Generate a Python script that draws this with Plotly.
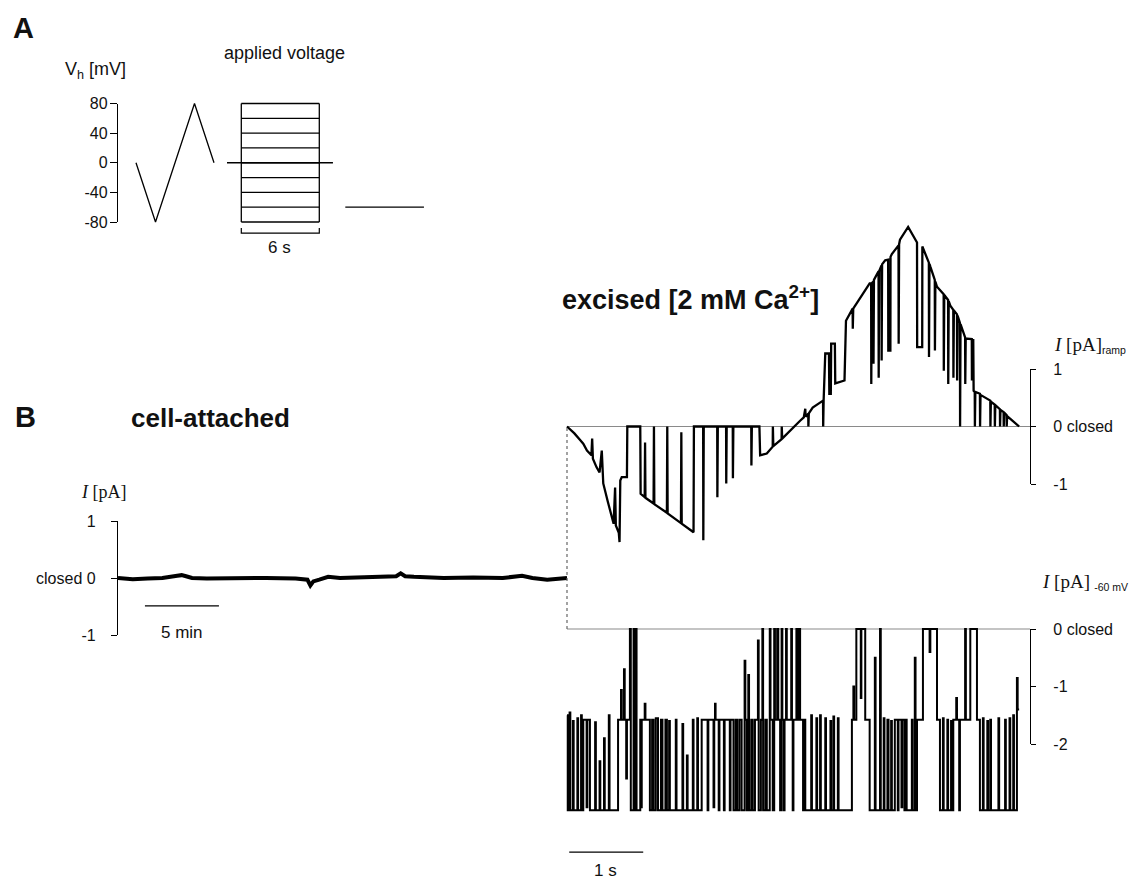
import plotly.graph_objects as go

W, H = 1132, 885

# ======================= DATA =======================
# Panel A: applied voltage protocol (time in s, voltage in mV)
ramp_prot_t = [0.0, 1.5, 4.5, 6.0]
ramp_prot_v = [0, -80, 80, 0]
step_levels = [-80, -60, -40, -20, 0, 20, 40, 60, 80]
step_on, step_off = 8.1, 14.1
hold_on, hold_off, hold_v = 7.0, 15.15, 0
m60_on, m60_off, m60_v = 16.1, 22.15, -60
prot_ticks = [80, 40, 0, -40, -80]
scale_A_len = 6          # s
scale_A_label = "6 s"

# Panel B, cell-attached (time in min, current in pA)
ca_t = [0, 1, 2, 3, 4, 4.3, 4.6, 5, 6, 8, 10, 12, 12.8, 13.0, 13.2, 13.6, 14.2,
        15, 16, 18, 18.8, 19.1, 19.4, 20, 22, 24, 26, 27.3, 28, 29, 30.34]
ca_i = [0, -0.02, -0.01, 0.0, 0.04, 0.05, 0.03, 0.0, -0.01, 0.0, 0.0, -0.01,
        -0.03, -0.13, -0.06, -0.03, 0.02, 0.0, 0.01, 0.02, 0.03, 0.08, 0.03,
        0.02, 0.0, 0.01, 0.0, 0.04, 0.0, -0.03, 0.0]
ca_ticks = [1, 0, -1]
ca_ticktext = ["1", "closed 0", "-1"]
scale_ca_len = 5         # min
scale_ca_label = "5 min"

# Panel B, excised, ramp (time in s, current in pA)
ramp_t = [0.00, 0.10, 0.18, 0.22, 0.27, 0.33, 0.34, 0.35, 0.40, 0.44, 0.47, 0.48,
          0.49, 0.55, 0.58, 0.63, 0.65, 0.66, 0.70, 0.71, 0.72, 0.74, 0.81, 0.815,
          0.99, 0.995, 1.05, 1.055, 1.06, 1.17, 1.175, 1.18, 1.35, 1.355, 1.36,
          1.54, 1.545, 1.55, 1.71, 1.715, 1.84, 1.842, 1.848, 2.03, 2.032, 2.038,
          2.15, 2.152, 2.158, 2.24, 2.242, 2.248, 2.49, 2.492, 2.498, 2.60, 2.602,
          2.61, 2.70, 2.78, 2.782, 2.788, 2.90, 2.902, 2.908, 3.15, 3.20, 3.22,
          3.225, 3.26, 3.262, 3.268, 3.32, 3.46, 3.462, 3.468, 3.49, 3.54, 3.545,
          3.565, 3.57, 3.62, 3.625, 3.75, 3.77, 3.86, 3.862, 3.868, 4.09, 4.11,
          4.112, 4.118, 4.14, 4.142, 4.148, 4.21, 4.212, 4.218, 4.25, 4.252, 4.258,
          4.30, 4.34, 4.342, 4.37, 4.372, 4.39, 4.48, 4.482, 4.488, 4.50, 4.61,
          4.73, 4.732, 4.80, 4.802, 4.89, 4.892, 4.898, 4.91, 4.97, 4.972, 4.978,
          5.00, 5.09, 5.092, 5.098, 5.15, 5.152, 5.158, 5.18, 5.22, 5.222, 5.228,
          5.27, 5.272, 5.278, 5.31, 5.312, 5.318, 5.38, 5.382, 5.388, 5.47, 5.472,
          5.478, 5.49, 5.495, 5.51, 5.512, 5.518, 5.58, 5.582, 5.588, 5.72, 5.722,
          5.728, 5.78, 5.782, 5.788, 5.85, 5.852, 5.858, 5.90, 5.902, 5.908, 5.94,
          5.942, 5.948, 6.11]
ramp_i = [0.00, -0.12, -0.24, -0.30, -0.42, -0.50, -0.21, -0.56, -0.71, -0.80,
          -0.42, -0.85, -0.99, -1.30, -1.46, -1.69, -1.06, -1.72, -1.85, -2.01,
          -0.94, -0.88, -0.88, 0.00, 0.00, -1.17, -1.23, -0.28, -1.24, -1.34, 0.00,
          -1.35, -1.50, 0.00, -1.51, -1.68, -0.10, -1.69, -1.84, 0.00, 0.00, -1.98,
          0.00, 0.00, -1.23, 0.00, 0.00, -0.99, 0.00, 0.00, -0.90, 0.00, 0.00,
          -0.68, 0.00, 0.00, -0.47, -0.50, -0.47, -0.35, 0.00, -0.34, -0.22, 0.00,
          -0.21, 0.10, 0.16, 0.31, 0.17, 0.22, 0.00, 0.23, 0.33, 0.45, 0.00, 0.45,
          1.27, 1.27, 0.57, 0.57, 1.44, 1.44, 0.75, 0.80, 1.84, 2.05, 1.70, 2.05,
          2.49, 2.49, 0.74, 2.49, 2.52, 1.09, 2.55, 2.70, 0.85, 2.70, 2.80, 1.15,
          2.82, 2.89, 2.90, 1.32, 1.32, 2.95, 3.00, 3.15, 1.44, 3.17, 3.25, 3.47,
          3.20, 1.38, 1.38, 3.13, 2.85, 1.21, 2.83, 2.78, 2.55, 1.32, 2.52, 2.43,
          2.30, 0.97, 2.29, 2.20, 0.74, 2.18, 2.10, 2.03, 0.85, 2.02, 1.95, 0.80,
          1.93, 1.80, 0.00, 1.78, 1.55, 0.74, 1.53, 1.52, 0.80, 1.50, 1.50, 0.62,
          0.60, 0.00, 0.60, 0.57, 0.00, 0.55, 0.45, 0.00, 0.43, 0.38, 0.00, 0.37,
          0.30, 0.00, 0.29, 0.25, 0.00, 0.24, 0.20, 0.00, 0.18, 0.00]
ramp_ticks = [1, 0, -1]
ramp_ticktext = ["1", "0 closed", "-1"]

# Panel B, excised, holding at -60 mV (step trace: time of change in s, current after it in pA)
m60_t = [0.000, 0.010, 0.035, 0.045, 0.080, 0.090, 0.140, 0.150, 0.190, 0.200,
         0.220, 0.265, 0.275, 0.310, 0.380, 0.390, 0.440, 0.450, 0.500, 0.510,
         0.565, 0.575, 0.690, 0.730, 0.740, 0.770, 0.780, 0.800, 0.810, 0.850,
         0.862, 0.900, 0.910, 0.930, 0.940, 0.990, 1.000, 1.010, 1.050, 1.060,
         1.120, 1.150, 1.170, 1.200, 1.230, 1.270, 1.290, 1.330, 1.350, 1.380,
         1.390, 1.470, 1.480, 1.560, 1.570, 1.620, 1.630, 1.700, 1.710, 1.760,
         1.770, 1.820, 1.900, 1.910, 1.980, 1.990, 2.000, 2.008, 2.050, 2.060,
         2.120, 2.130, 2.200, 2.210, 2.250, 2.280, 2.300, 2.330, 2.360, 2.400,
         2.410, 2.430, 2.450, 2.460, 2.490, 2.510, 2.540, 2.580, 2.590, 2.620,
         2.640, 2.650, 2.680, 2.700, 2.740, 2.750, 2.780, 2.800, 2.810, 2.840,
         2.855, 2.880, 2.900, 2.910, 2.930, 2.940, 2.960, 2.970, 3.030, 3.040,
         3.050, 3.060, 3.100, 3.115, 3.130, 3.150, 3.190, 3.200, 3.220, 3.300,
         3.310, 3.370, 3.380, 3.420, 3.430, 3.490, 3.500, 3.560, 3.570, 3.600,
         3.610, 3.660, 3.670, 3.850, 3.870, 3.880, 3.910, 3.970, 3.978, 4.030,
         4.090, 4.160, 4.170, 4.230, 4.240, 4.280, 4.290, 4.330, 4.345, 4.380,
         4.390, 4.430, 4.470, 4.480, 4.520, 4.530, 4.560, 4.570, 4.590, 4.660,
         4.670, 4.700, 4.710, 4.730, 4.810, 4.900, 4.910, 5.000, 5.040, 5.080,
         5.090, 5.140, 5.150, 5.190, 5.200, 5.220, 5.260, 5.270, 5.300, 5.310,
         5.380, 5.390, 5.450, 5.540, 5.580, 5.620, 5.630, 5.680, 5.690, 5.720,
         5.730, 5.830, 5.840, 5.920, 5.930, 5.980, 5.990, 6.030, 6.040, 6.080,
         6.090, 6.110]
m60_i = [-1.50, -3.15, -1.45, -3.15, -1.60, -3.15, -1.55, -3.15, -1.50, -3.15,
         -1.58, -3.10, -1.58, -3.15, -1.62, -3.15, -2.30, -3.15, -1.90, -3.15,
         -1.50, -3.15, -1.58, -1.06, -1.58, -0.70, -1.58, -2.60, -1.58, 0.00,
         -3.15, 0.00, -3.15, 0.00, -3.15, -1.58, -3.10, -1.58, -1.30, -1.58,
         -3.15, -1.58, -3.15, -1.55, -3.15, -1.58, -3.15, -1.58, -3.15, -1.60,
         -3.15, -1.58, -3.15, -1.65, -3.15, -2.20, -3.15, -1.58, -3.15, -1.55,
         -3.15, -1.58, -3.15, -1.58, -3.10, -1.58, -1.30, -1.58, -3.15, -1.58,
         -3.15, -1.58, -3.15, -1.58, -3.15, -1.58, -3.15, -1.58, -3.15, -0.55,
         -1.58, -3.15, -0.80, -3.15, -1.58, -3.15, -1.58, -0.20, -3.15, -1.58,
         0.00, -3.15, -1.58, -3.15, 0.00, -1.58, -3.15, 0.00, -1.58, 0.00,
         -1.58, -3.15, 0.00, -1.58, -3.15, -1.58, 0.00, -1.58, 0.00, -1.58,
         -3.15, -1.58, 0.00, -1.58, 0.00, -1.58, -3.15, -1.58, -3.15, -1.50,
         -3.15, -1.55, -3.15, -1.50, -3.15, -1.55, -3.15, -1.60, -3.15, -1.52,
         -3.15, -1.55, -3.15, -1.58, -1.00, -1.58, 0.00, -1.20, 0.00, -1.58,
         -3.15, -0.50, -3.15, 0.00, -3.15, -1.55, -3.15, -1.58, -3.15, -1.60,
         -3.15, -1.58, -3.15, -1.58, -3.10, -1.58, -3.15, -1.58, -3.15, -1.58,
         -3.15, -0.50, -3.15, -1.58, 0.00, -0.40, 0.00, -1.58, -3.15, -1.55,
         -3.15, -1.58, -3.15, -1.60, -3.15, -1.58, -1.20, -1.58, -3.15, -1.58,
         0.00, -1.58, 0.00, -1.58, -3.15, -1.55, -3.15, -1.60, -3.15, -1.58,
         -3.15, -1.55, -3.15, -1.58, -3.15, -1.55, -3.15, -1.50, -3.15, -0.85,
         -1.40, -1.40]
m60_ticks = [0, -1, -2]
m60_ticktext = ["0 closed", "-1", "-2"]
scale_ex_len = 1         # s
scale_ex_label = "1 s"

# ======================= LAYOUT HELPERS =======================
def xdom(p0, p1):
    return [p0 / W, p1 / W]

def ydom(top, bot):
    return [1 - bot / H, 1 - top / H]

def span(va, pa, vb, pb, p0, p1):
    k = (vb - va) / (pb - pa)
    return [va + (p0 - pa) * k, va + (p1 - pa) * k]

def px(x):
    return x / W

def py(y):
    return 1 - y / H

SANS = "Liberation Sans, Arial, sans-serif"
INK = "#111111"

fig = go.Figure()

def line(x, y, xa, ya, color="black", width=1.3, shape="linear"):
    fig.add_trace(go.Scatter(x=x, y=y, xaxis=xa, yaxis=ya, mode="lines",
                             line=dict(color=color, width=width, shape=shape),
                             hoverinfo="skip", showlegend=False, connectgaps=False))

def axis_holder(xa, ya):
    # empty trace so that plotly builds the tick-only axis
    fig.add_trace(go.Scatter(x=[], y=[], xaxis=xa, yaxis=ya, mode="lines",
                             hoverinfo="skip", showlegend=False))

# ---------- Panel A ----------
line(ramp_prot_t, ramp_prot_v, "x", "y")
line([hold_on, hold_off], [hold_v, hold_v], "x", "y")
sx, sy = [], []
for v in step_levels:
    sx += [step_on, step_off, None]
    sy += [v, v, None]
sx += [step_on, step_on, None, step_off, step_off]
sy += [min(step_levels), max(step_levels), None, min(step_levels), max(step_levels)]
line(sx, sy, "x", "y")
line([m60_on, m60_off], [m60_v, m60_v], "x", "y")
line([step_on, step_on, step_on + scale_A_len, step_on + scale_A_len],
     [-88, -95, -95, -88], "x", "y", width=1.2)
axis_holder("x", "y2")

# ---------- Panel B: cell-attached ----------
line(ca_t, ca_i, "x2", "y3", width=4.0)
line([1.82, 1.82 + scale_ca_len], [-0.49, -0.49], "x2", "y3", width=1.2)
axis_holder("x2", "y4")

# ---------- Panel B: excised ----------
line([0, 6.257], [0, 0], "x3", "y5", color="#8a8a8a", width=1.2)
line([0, 6.257], [0, 0], "x3", "y7", color="#8a8a8a", width=1.2)
line(ramp_t, ramp_i, "x3", "y5", width=2.3)
line(m60_t, m60_i, "x3", "y7", width=2.0, shape="hv")
line([0.03, 0.03 + scale_ex_len], [-3.88, -3.88], "x3", "y7", width=1.2)
axis_holder("x3", "y6")
axis_holder("x3", "y8")

hidden = dict(visible=False, showgrid=False, zeroline=False, fixedrange=True, automargin=False)

def tick_axis(domain, rng, anchor, side, vals, text, ticklen, standoff):
    return dict(domain=domain, range=rng, anchor=anchor, side=side,
                showline=True, linecolor="black", linewidth=1.3,
                ticks="outside", ticklen=ticklen, tickwidth=1.3, tickcolor="black",
                tickvals=vals, ticktext=text, showgrid=False, zeroline=False,
                tickfont=dict(family=SANS, size=16, color=INK),
                ticklabelstandoff=standoff, fixedrange=True, automargin=False)

layout = dict(
    width=W, height=H, autosize=False,
    margin=dict(l=0, r=0, t=0, b=0, pad=0, autoexpand=False),
    paper_bgcolor="white", plot_bgcolor="rgba(0,0,0,0)",
    showlegend=False,
    # Panel A
    xaxis=dict(domain=xdom(118, 432), range=span(0, 136, 6, 214, 118, 432), anchor="y", **hidden),
    yaxis=dict(domain=ydom(85, 245), range=span(80, 103.5, -80, 222, 245, 85), anchor="x", **hidden),
    yaxis2=tick_axis(ydom(103.5, 222), [-80, 80], "x", "left", prot_ticks,
                     [str(v) for v in prot_ticks], 7, -1),
    # Panel B cell-attached
    xaxis2=dict(domain=xdom(118, 568), range=span(0, 118, 5, 192, 118, 568), anchor="y3", **hidden),
    yaxis3=dict(domain=ydom(470, 660), range=span(1, 521, -1, 635, 660, 470), anchor="x2", **hidden),
    yaxis4=tick_axis(ydom(521, 635), [-1, 1], "x2", "left", ca_ticks, ca_ticktext, 6, 12),
    # Panel B excised
    xaxis3=dict(domain=xdom(560, 1030), range=span(0, 567, 1, 641, 560, 1030), anchor="y5", **hidden),
    yaxis5=dict(domain=ydom(215, 560), range=span(1, 369, -1, 484, 560, 215), anchor="x3", **hidden),
    yaxis6=tick_axis(ydom(369, 484), [-1, 1], "x3", "right", ramp_ticks, ramp_ticktext, 5, 14),
    yaxis7=dict(domain=ydom(560, 880), range=span(0, 629, -2, 744, 880, 560), anchor="x3", **hidden),
    yaxis8=tick_axis(ydom(629, 744), [-2, 0], "x3", "right", m60_ticks, m60_ticktext, 5, 14),
)
fig.update_layout(**layout)

# dotted connector between the two excised traces
fig.add_shape(type="line", xref="x3", yref="paper", x0=0, x1=0,
              y0=py(629), y1=py(426.5),
              line=dict(color="#666666", width=1.2, dash="dot"))

def text(t, x, y, size=17, bold=False, family=SANS, xanchor="center"):
    fig.add_annotation(text=("<b>%s</b>" % t) if bold else t, x=px(x), y=py(y),
                       xref="paper", yref="paper", showarrow=False,
                       xanchor=xanchor, yanchor="middle",
                       font=dict(family=family, size=size, color=INK))

text("A", 23, 28, size=29, bold=True)
text("applied voltage", 284, 53, size=18)
text("V<sub>h</sub> [mV]", 95, 70, size=18)
text(scale_A_label, 279, 247, size=17)
text("B", 25, 417, size=29, bold=True)
text("cell-attached", 210, 418, size=26, bold=True)
text('<span style="font-family:Liberation Serif"><i>I</i> [pA]</span>', 104, 492, size=18)
text(scale_ca_label, 182, 632, size=17)
text("excised [2 mM Ca<sup>2+</sup>]", 690, 298, size=27, bold=True)
text('<span style="font-family:Liberation Serif;font-size:19px"><i>I</i> [pA]</span><sub>ramp</sub>',
     1128, 345, size=15, xanchor="right")
text('<span style="font-family:Liberation Serif;font-size:19px"><i>I</i> [pA]</span> <sub>-60 mV</sub>',
     1130, 582, size=15, xanchor="right")
text(scale_ex_label, 605, 870, size=17)

css_fix = ("var s=document.createElement('style');"
           "s.textContent='html,body{margin:0;padding:0;overflow:hidden;width:%dpx;height:%dpx;}';"
           "document.head.appendChild(s);window.scrollTo(0,0);" % (W, H))
fig.write_html("out.html", include_plotlyjs=True, full_html=True,
               config={"displayModeBar": False, "responsive": False},
               post_script=css_fix)
